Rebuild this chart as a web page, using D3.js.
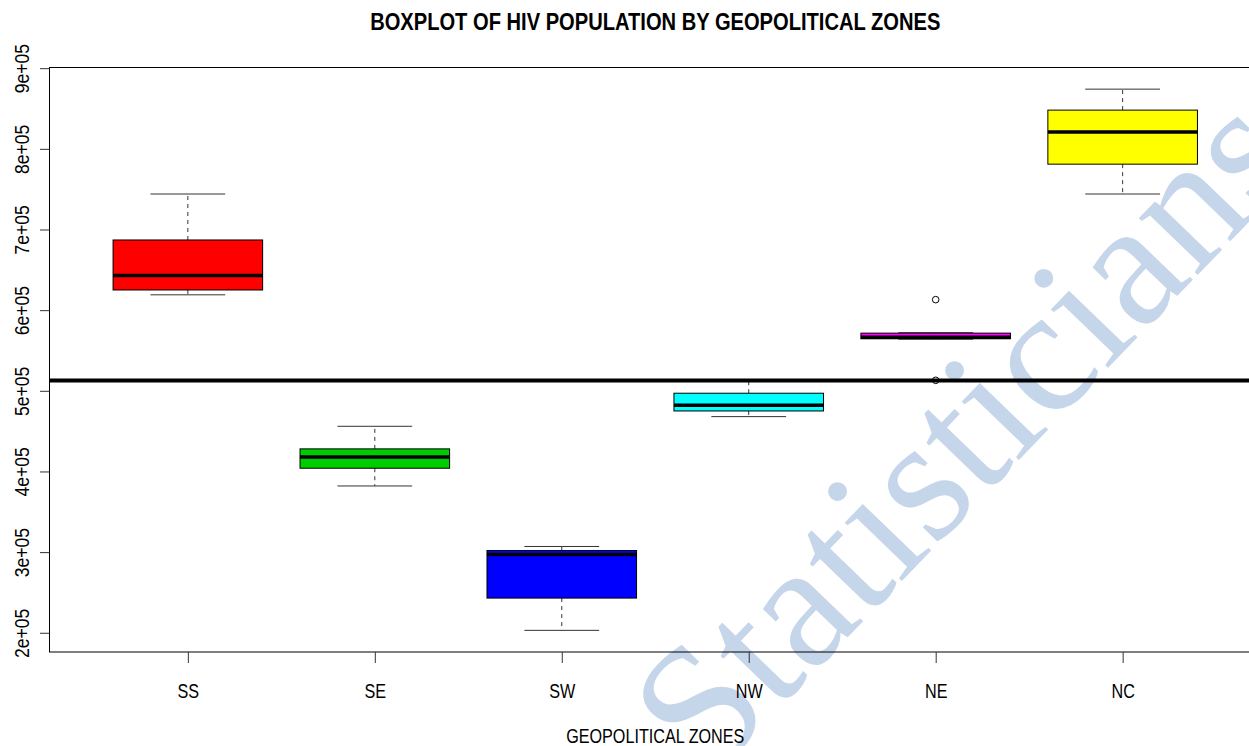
<!DOCTYPE html>
<html>
<head>
<meta charset="utf-8">
<script src="https://cdn.jsdelivr.net/npm/d3@7"></script>
<style>
  html, body { margin: 0; padding: 0; background: #fff; }
  svg { display: block; }
</style>
</head>
<body>
<svg id="chart" width="1249" height="746"></svg>
<script>
// ---- data ----
const categories  = ["SS", "SE", "SW", "NW", "NE", "NC"];
const whiskerLow  = [619000, 382000, 203000, 468000, 564000, 744000];
const q1          = [625000, 404000, 243000, 475000, 564500, 781000];
const medians     = [643000, 418000, 297000, 482000, 566500, 821000];
const q3          = [687000, 428000, 302000, 497000, 571500, 848000];
const whiskerHigh = [744000, 456000, 307000, 512000, 572000, 874000];
const outlierZone = ["NE", "NE"];
const outlierVals = [613000, 513000];
const boxColors   = ["#FF0000", "#00CD00", "#0000FF", "#00FFFF", "#FF00FF", "#FFFF00"];
const refLineValue = 512700;
const yTickValues = [200000, 300000, 400000, 500000, 600000, 700000, 800000, 900000];
const yTickLabels = ["2e+05", "3e+05", "4e+05", "5e+05", "6e+05", "7e+05", "8e+05", "9e+05"];
const titleText = "BOXPLOT OF HIV POPULATION BY GEOPOLITICAL ZONES";
const xLabelText = "GEOPOLITICAL ZONES";
const watermarkText = "Statisticians";

// ---- layout ----
const svg = d3.select("#chart");
const plot = { left: 49.5, right: 1261, top: 67.5, bottom: 652 };
const sansFont = "'Liberation Sans', Arial, Helvetica, sans-serif";
const narrow = 0.83;

// R-style 4% expansion
const allVals = whiskerLow.concat(whiskerHigh, outlierVals);
const yMin = d3.min(allVals), yMax = d3.max(allVals);
const yPad = (yMax - yMin) * 0.04;
const y = d3.scaleLinear().domain([yMin - yPad, yMax + yPad]).range([plot.bottom, plot.top]);
const xPad = categories.length * 0.04;
const x = d3.scaleLinear().domain([0.5 - xPad, categories.length + 0.5 + xPad]).range([plot.left, plot.right]);
const unit = x(2) - x(1);
const boxW = unit * 0.8;
const capW = boxW / 2;

// ---- watermark (beneath) ----
svg.append("text")
  .attr("transform", "translate(707,783) rotate(-46)")
  .attr("font-family", "'Liberation Serif', 'Times New Roman', serif")
  .attr("font-size", 178)
  .attr("fill", "#c5d5ea")
  .text(watermarkText);

// ---- clip ----
svg.append("defs").append("clipPath").attr("id", "plotclip")
  .append("rect")
  .attr("x", plot.left).attr("y", plot.top)
  .attr("width", plot.right - plot.left).attr("height", plot.bottom - plot.top);

const g = svg.append("g").attr("clip-path", "url(#plotclip)");

const data = categories.map((c, i) => ({
  c, i: i + 1,
  lo: whiskerLow[i], q1: q1[i], med: medians[i], q3: q3[i], hi: whiskerHigh[i], col: boxColors[i]
}));

data.forEach(d => {
  const cx = x(d.i);
  g.append("line").attr("x1", cx).attr("x2", cx).attr("y1", y(d.q3)).attr("y2", y(d.hi))
    .attr("stroke", "#333").attr("stroke-width", 1).attr("stroke-dasharray", "4,4");
  g.append("line").attr("x1", cx).attr("x2", cx).attr("y1", y(d.q1)).attr("y2", y(d.lo))
    .attr("stroke", "#333").attr("stroke-width", 1).attr("stroke-dasharray", "4,4");
  g.append("line").attr("x1", cx - capW / 2).attr("x2", cx + capW / 2).attr("y1", y(d.hi)).attr("y2", y(d.hi))
    .attr("stroke", "#333").attr("stroke-width", 1);
  g.append("line").attr("x1", cx - capW / 2).attr("x2", cx + capW / 2).attr("y1", y(d.lo)).attr("y2", y(d.lo))
    .attr("stroke", "#333").attr("stroke-width", 1);
  g.append("rect")
    .attr("x", cx - boxW / 2).attr("width", boxW)
    .attr("y", y(d.q3)).attr("height", y(d.q1) - y(d.q3))
    .attr("fill", d.col).attr("stroke", "#000").attr("stroke-width", 1);
  g.append("line").attr("x1", cx - boxW / 2).attr("x2", cx + boxW / 2)
    .attr("y1", y(d.med)).attr("y2", y(d.med))
    .attr("stroke", "#000").attr("stroke-width", 3.5);
});

// outliers
outlierVals.forEach((v, k) => {
  const idx = categories.indexOf(outlierZone[k]) + 1;
  g.append("circle").attr("cx", x(idx)).attr("cy", y(v)).attr("r", 3.3)
    .attr("fill", "none").attr("stroke", "#000").attr("stroke-width", 1);
});

// reference line
g.append("line").attr("x1", plot.left).attr("x2", plot.right)
  .attr("y1", y(refLineValue)).attr("y2", y(refLineValue))
  .attr("stroke", "#000").attr("stroke-width", 4);

// frame
svg.append("rect")
  .attr("x", plot.left).attr("y", plot.top)
  .attr("width", plot.right - plot.left).attr("height", plot.bottom - plot.top)
  .attr("fill", "none").attr("stroke", "#000").attr("stroke-width", 1);

// ---- y axis ----
const yAxis = d3.axisLeft(y).tickValues(yTickValues)
  .tickFormat((d, i) => yTickLabels[i]).tickSize(9.5).tickSizeOuter(0);
const ya = svg.append("g").attr("transform", `translate(${plot.left},0)`).call(yAxis);
ya.select(".domain").remove();
ya.selectAll(".tick line").attr("stroke", "#333");
ya.selectAll(".tick text")
  .attr("font-family", sansFont).attr("font-size", 19.5).attr("fill", "#000")
  .attr("transform", "rotate(-90) scale(0.9,1)")
  .attr("x", 0).attr("y", -21).attr("dy", 0)
  .attr("text-anchor", "middle");

// ---- x axis ----
const xAxis = d3.axisBottom(x).tickValues(d3.range(1, categories.length + 1))
  .tickFormat(d => categories[d - 1]).tickSize(11).tickSizeOuter(0);
const xa = svg.append("g").attr("transform", `translate(0,${plot.bottom})`).call(xAxis);
xa.select(".domain").remove();
xa.selectAll(".tick line").attr("stroke", "#333");
xa.selectAll(".tick text")
  .attr("font-family", sansFont).attr("font-size", 19.5).attr("fill", "#000")
  .attr("transform", `translate(0,46) scale(${narrow},1)`)
  .attr("x", 0).attr("y", 0).attr("dy", 0);

// ---- title & axis label ----
const cxPlot = (plot.left + plot.right) / 2;
svg.append("text")
  .attr("transform", `translate(${cxPlot},30) scale(0.875,1)`)
  .attr("text-anchor", "middle")
  .attr("font-family", sansFont).attr("font-weight", "bold").attr("font-size", 23)
  .attr("fill", "#000").text(titleText);

svg.append("text")
  .attr("transform", `translate(${cxPlot},742.5) scale(0.83,1)`)
  .attr("text-anchor", "middle")
  .attr("font-family", sansFont).attr("font-size", 19.5)
  .attr("fill", "#000").text(xLabelText);
</script>
</body>
</html>
